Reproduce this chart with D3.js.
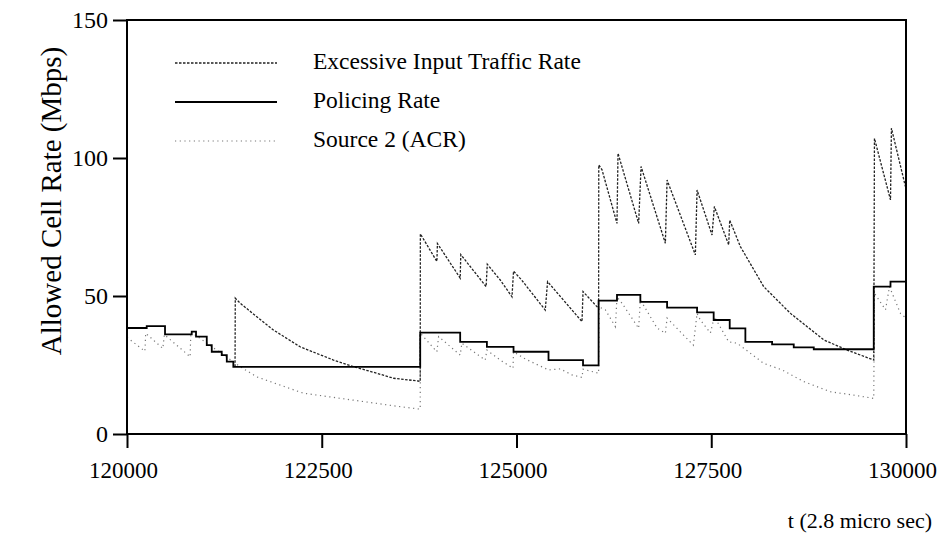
<!DOCTYPE html>
<html>
<head>
  <meta charset="utf-8">
  <title>Allowed Cell Rate</title>
  <script src="https://cdn.jsdelivr.net/npm/d3@7"></script>
  <style>
    body { margin: 0; background: #fff; }
    text { font-family: "Liberation Serif", "DejaVu Serif", serif; fill: #000; }
  </style>
</head>
<body>
<script>
// Werte (t in 2.8 µs, Rate in Mbps)
var xTicks = [120000, 122500, 125000, 127500, 130000];
var yTicks = [0, 50, 100, 150];

var seriesNames = ["Excessive Input Traffic Rate", "Policing Rate", "Source 2 (ACR)"];

var excessT = [121387, 121390, 121452, 121666, 121879, 122222, 122650, 122907, 123207, 123421,
  123738, 123764, 123766, 123978, 123985, 124277, 124285, 124610, 124625, 124791,
  124942, 124962, 125066, 125369, 125399, 125841, 125854, 126054, 126056, 126098,
  126290, 126303, 126568, 126599, 126911, 126933, 127296, 127318, 127510, 127540,
  127724, 127737, 127874, 128173, 128517, 128944, 129245, 129586, 129595, 129801,
  129813, 129993];
var excessV = [24.4, 49.2, 47.4, 42.5, 37.7, 31.6, 26.8, 24.4, 22.0, 20.2,
  19.2, 19.0, 72.5, 62.5, 69.0, 56.5, 65.0, 53.4, 61.5, 55.8,
  49.7, 59.0, 55.8, 44.9, 55.2, 40.7, 51.6, 45.5, 97.5, 95.7,
  76.3, 101.7, 76.3, 96.9, 69.1, 92.0, 64.9, 88.4, 72.1, 82.4,
  68.5, 77.5, 67.9, 53.4, 43.7, 34.1, 30.4, 26.8, 107.1, 84.8,
  110.8, 89.6];

var policeT = [120000, 120253, 120488, 120831, 120886, 121024, 121088, 121216, 121281, 121365,
  123764, 124277, 124620, 124962, 125411, 125854, 126054, 126290, 126590, 126933,
  127318, 127531, 127737, 127938, 128281, 128559, 128816, 129586, 129801, 130000];
var policeV = [38.4, 39.1, 36.1, 37.1, 35.3, 32.2, 29.8, 28.6, 26.2, 24.3,
  36.7, 33.4, 31.6, 29.8, 26.8, 24.9, 48.3, 50.4, 47.9, 45.8,
  44.1, 41.3, 38.3, 33.4, 32.5, 31.4, 30.7, 53.4, 55.2, 55.2];

var acrT = [120000, 120230, 120240, 120460, 120480, 120810, 120820, 121452, 121666, 122261,
  123507, 123764, 123766, 123978, 124000, 124277, 124299, 124599, 124620, 124791,
  124955, 124962, 125112, 125411, 125562, 125712, 125841, 125854, 126054, 126060,
  126140, 126270, 126290, 126354, 126568, 126590, 126804, 126911, 126933, 127104,
  127270, 127318, 127360, 127489, 127540, 127724, 127832, 128173, 128410, 128687,
  129030, 129329, 129586, 129595, 129737, 129788, 129822, 129929, 130000];
var acrV = [35.0, 30.0, 36.5, 31.0, 36.0, 28.0, 37.0, 24.4, 20.7, 14.8,
  9.9, 9.0, 36.5, 29.8, 35.3, 28.6, 32.9, 26.8, 30.4, 26.8,
  23.8, 29.8, 27.2, 23.2, 23.6, 21.4, 20.5, 23.5, 22.0, 46.0,
  45.0, 38.9, 49.7, 47.4, 38.3, 48.6, 38.4, 36.5, 42.0, 37.0,
  32.2, 43.7, 41.3, 36.6, 42.5, 33.4, 32.9, 25.6, 23.2, 19.0,
  15.3, 14.1, 12.9, 51.0, 45.0, 53.4, 51.0, 43.7, 42.0];

var breite = 944, hoehe = 541;
var rand = {links: 127, rechts: 906, oben: 20, unten: 434};

var svg = d3.select("body").append("svg")
  .attr("width", breite)
  .attr("height", hoehe);

var x = d3.scaleLinear().domain([120000, 130000]).range([rand.links, rand.rechts]);
var y = d3.scaleLinear().domain([0, 150]).range([rand.unten, rand.oben]);

function paare(ts, vs) { return ts.map(function(t, i) { return [t, vs[i]]; }); }

var linie = d3.line().x(function(d) { return x(d[0]); }).y(function(d) { return y(d[1]); });
var stufe = d3.line().curve(d3.curveStepAfter)
  .x(function(d) { return x(d[0]); }).y(function(d) { return y(d[1]); });

// Source 2 (ACR), hell gepunktet
svg.append("path")
  .datum(paare(acrT, acrV))
  .attr("d", linie)
  .attr("fill", "none")
  .attr("stroke", "#777")
  .attr("stroke-width", 1.2)
  .attr("stroke-dasharray", "1.2,3.5");

// Excessive Input Traffic Rate, fein gestrichelt
svg.append("path")
  .datum(paare(excessT, excessV))
  .attr("d", linie)
  .attr("fill", "none")
  .attr("stroke", "#222")
  .attr("stroke-width", 1.3)
  .attr("stroke-dasharray", "2.5,1.5");

// Policing Rate, durchgezogen
svg.append("path")
  .datum(paare(policeT, policeV))
  .attr("d", stufe)
  .attr("fill", "none")
  .attr("stroke", "#000")
  .attr("stroke-width", 1.8);

// Rahmen
svg.append("rect")
  .attr("x", rand.links).attr("y", rand.oben)
  .attr("width", rand.rechts - rand.links)
  .attr("height", rand.unten - rand.oben)
  .attr("fill", "none")
  .attr("stroke", "#000")
  .attr("stroke-width", 2);

var xAchse = svg.append("g")
  .attr("transform", "translate(0," + rand.unten + ")")
  .call(d3.axisBottom(x).tickValues(xTicks).tickSize(14).tickPadding(14).tickFormat(d3.format("d")));
var yAchse = svg.append("g")
  .attr("transform", "translate(" + rand.links + ",0)")
  .call(d3.axisLeft(y).tickValues(yTicks).tickSize(14).tickPadding(5));

[xAchse, yAchse].forEach(function(a) {
  a.select(".domain").remove();
  a.selectAll("line").attr("stroke", "#000").attr("stroke-width", 2);
  a.selectAll("text").style("font-family", "Liberation Serif");
});
xAchse.selectAll("text").attr("dx", -4).style("font-size", "23px");
yAchse.selectAll("text").style("font-size", "24px");

// Achsentitel
svg.append("text")
  .attr("x", 932).attr("y", 528)
  .attr("text-anchor", "end")
  .style("font-size", "22px")
  .text("t (2.8 micro sec)");

svg.append("text")
  .attr("transform", "translate(61,201) rotate(-90)")
  .attr("text-anchor", "middle")
  .style("font-size", "29px")
  .text("Allowed Cell Rate (Mbps)");

// Legende
var legStil = [
  {farbe: "#222", breite: 1.3, strich: "2.5,1.5"},
  {farbe: "#000", breite: 1.8, strich: null},
  {farbe: "#777", breite: 1.2, strich: "1.2,3.5"}
];
var leg = svg.selectAll(".leg").data(seriesNames).enter().append("g")
  .attr("class", "leg")
  .attr("transform", function(d, i) { return "translate(0," + (63 + i * 39) + ")"; });
leg.append("line")
  .attr("x1", 175).attr("x2", 277).attr("y1", 0).attr("y2", 0)
  .attr("stroke", function(d, i) { return legStil[i].farbe; })
  .attr("stroke-width", function(d, i) { return legStil[i].breite; })
  .attr("stroke-dasharray", function(d, i) { return legStil[i].strich; });
leg.append("text")
  .attr("x", 313).attr("y", 6)
  .style("font-size", "23.5px")
  .text(function(d) { return d; });
</script>
</body>
</html>
